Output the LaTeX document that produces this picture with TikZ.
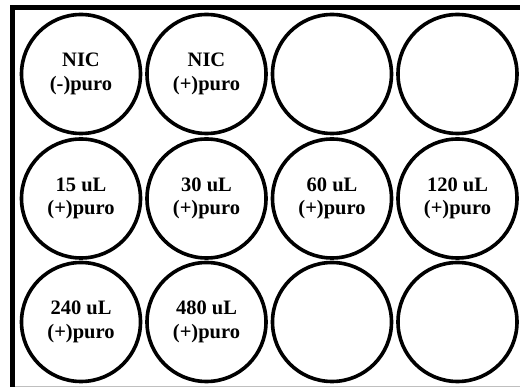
\documentclass[tikz,border=0pt]{standalone}
\usepackage{fontspec}
\setmainfont{Liberation Serif}
\usetikzlibrary{positioning}
\tikzset{
  well/.style={circle,draw=black,line width=3.6pt,minimum size=119pt,inner sep=0pt,align=center,font=\bfseries\fontsize{20.5}{23.5}\selectfont},
  plate/.style={line width=5pt,draw=black},
  rim/.style={line width=0.8pt,draw=black!25}
}
\begin{document}
\begin{tikzpicture}[x=1pt,y=-1pt]
  \useasboundingbox (0,0) rectangle (520,387);
  \coordinate (pbl) at (12.5,389);
  \coordinate (ptl) at (12.5,7.5);
  \coordinate (ptr) at (522,7.5);
  \coordinate (rl) at (15,386.5);
  \coordinate (rr) at (520,386.5);
  \draw[rim] (rl)--(rr);
  \draw[plate] (pbl)--(ptl)--(ptr);

  \node[well] (a1) at (81,74) {NIC\\(-)puro};
  \node[well] (a2) at (206.5,74) {NIC\\(+)puro};
  \node[well] (a3) at (332,74) {};
  \node[well] (a4) at (457.5,74) {};
  \node[well] (b1) at (81,198.5) {15 uL\\(+)puro};
  \node[well] (b2) at (206.5,198.5) {30 uL\\(+)puro};
  \node[well] (b3) at (332,198.5) {60 uL\\(+)puro};
  \node[well] (b4) at (457.5,198.5) {120 uL\\(+)puro};
  \node[well] (c1) at (81,322) {240 uL\\(+)puro};
  \node[well] (c2) at (206.5,322) {480 uL\\(+)puro};
  \node[well] (c3) at (332,322) {};
  \node[well] (c4) at (457.5,322) {};
\end{tikzpicture}
\end{document}
